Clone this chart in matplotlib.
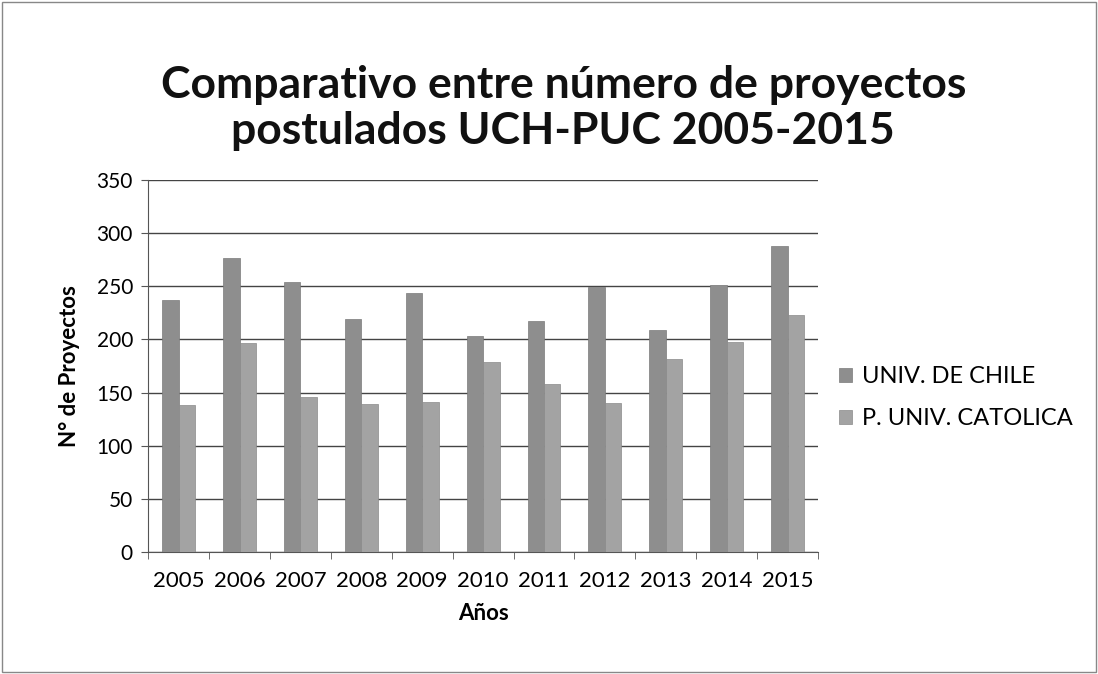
import numpy as np
import matplotlib.pyplot as plt
from matplotlib.patches import Rectangle

years = ["2005", "2006", "2007", "2008", "2009", "2010", "2011", "2012", "2013", "2014", "2015"]
uch = [237, 277, 254, 219, 244, 203, 217, 249, 209, 251, 288]
puc = [138, 197, 146, 139, 141, 179, 158, 140, 182, 198, 223]
series_names = ["UNIV. DE CHILE", "P. UNIV. CATOLICA"]

plt.rcParams['font.family'] = ['Lato', 'DejaVu Sans']

fig = plt.figure(figsize=(10.98, 6.74), dpi=100)
ax = fig.add_axes([0.135, 0.181, 0.610, 0.552])

x = np.arange(len(years))
w = 0.27
ax.bar(x - w / 2, uch, w, color="#8e8e8e", edgecolor="#7a7a7a", linewidth=0.5,
       label=series_names[0], zorder=3)
ax.bar(x + w / 2, puc, w, color="#a3a3a3", edgecolor="#8a8a8a", linewidth=0.5,
       label=series_names[1], zorder=3)

ax.set_xlim(-0.5, len(years) - 0.5)
ax.set_ylim(0, 350)
ax.set_yticks(range(0, 351, 50))
ax.set_xticks(x)
ax.set_xticklabels(years, fontsize=16)
ax.tick_params(axis="y", labelsize=15, length=5, color="#555555", pad=6)
ax.tick_params(axis="x", length=0, pad=14)
ax.set_xticks(np.arange(-0.5, len(years), 1), minor=True)
ax.tick_params(axis="x", which="minor", length=5, color="#555555")

ax.grid(axis="y", color="#444444", linewidth=1.0, zorder=0)
for s in ["top", "right"]:
    ax.spines[s].set_visible(False)
ax.spines["left"].set_color("#555555")
ax.spines["bottom"].set_color("#555555")

ax.set_ylabel("N° de Proyectos", fontsize=16, fontweight="bold", labelpad=12)
ax.set_xlabel("Años", fontsize=16, fontweight="bold", labelpad=8)

fig.text(0.513, 0.84, "Comparativo entre número de proyectos\npostulados UCH-PUC 2005-2015",
         ha="center", va="center", fontsize=32, fontweight="bold",
         linespacing=1.2, color="#111111")

ax.legend(loc="center left", bbox_to_anchor=(1.0, 0.415), frameon=False,
          fontsize=17, handlelength=0.55, handleheight=0.55, handletextpad=0.4,
          labelspacing=0.9)

fig.patches.append(Rectangle((0.002, 0.003), 0.996, 0.994, transform=fig.transFigure,
                             fill=False, edgecolor="#888888", linewidth=1))

fig.savefig("out.png", dpi=100, facecolor="white")
